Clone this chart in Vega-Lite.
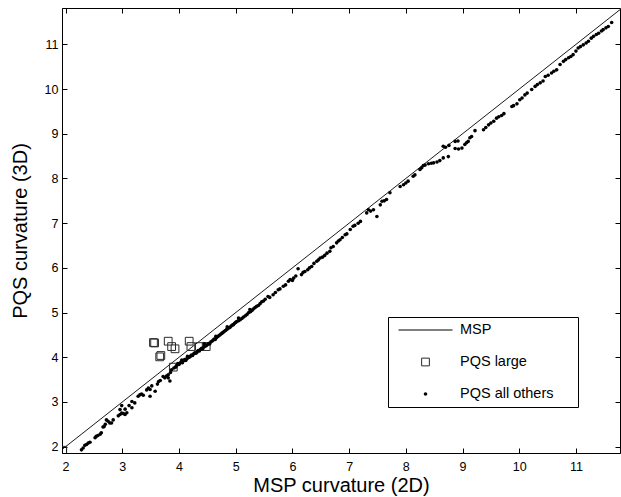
{
  "$schema": "https://vega.github.io/schema/vega-lite/v6.json",
  "width": 558,
  "height": 445,
  "autosize": "none",
  "padding": {"left": 62, "top": 8, "right": 1, "bottom": 44},
  "background": "white",
  "config": {
    "view": {"stroke": "black", "strokeWidth": 1},
    "axis": {
      "labelFont": "Liberation Sans", "labelFontSize": 12.5, "labelColor": "black",
      "titleFont": "Liberation Sans", "titleFontSize": 20, "titleFontWeight": "normal", "titleColor": "black",
      "domainColor": "black", "tickColor": "black", "grid": false, "tickSize": -5
    },
    "legend": {
      "orient": "none", "legendX": 326, "legendY": 309,
      "strokeColor": "black", "fillColor": "white", "padding": 5,
      "labelFont": "Liberation Sans", "labelFontSize": 14.5, "labelColor": "black",
      "labelOffset": 7, "rowPadding": 16, "clipHeight": 16, "symbolOffset": 5, "symbolStrokeWidth": 1,
      "titleOrient": "right", "titlePadding": 20, "titleFontSize": 10
    }
  },
  "resolve": {"axis": {"x": "independent", "y": "independent"}},
  "layer": [
    {
      "data": {"values": [{"x": 1.8, "y": 1.8}, {"x": 12, "y": 12}]},
      "mark": {"type": "line", "color": "black", "strokeWidth": 0.9, "clip": true},
      "encoding": {
        "x": {"field": "x", "type": "quantitative",
              "scale": {"domain": [1.937, 11.777], "nice": false, "zero": false},
              "axis": {"orient": "bottom", "values": [2,3,4,5,6,7,8,9,10,11], "title": "MSP curvature (2D)", "labelPadding": 12, "titlePadding": 3}},
        "y": {"field": "y", "type": "quantitative",
              "scale": {"domain": [1.859, 11.814], "nice": false, "zero": false},
              "axis": {"orient": "left", "values": [2,3,4,5,6,7,8,9,10,11], "title": "PQS curvature (3D)", "labelPadding": 9, "titlePadding": 14}}
      }
    },
    {
      "data": {"values": [
        {"series": "PQS large", "x": 1.95, "y": 1.92},
        {"series": "PQS large", "x": 3.55, "y": 4.33},
        {"series": "PQS large", "x": 3.57, "y": 4.32},
        {"series": "PQS large", "x": 3.81, "y": 4.36},
        {"series": "PQS large", "x": 3.87, "y": 4.24},
        {"series": "PQS large", "x": 3.93, "y": 4.19},
        {"series": "PQS large", "x": 3.66, "y": 4.01},
        {"series": "PQS large", "x": 3.68, "y": 4.04},
        {"series": "PQS large", "x": 4.18, "y": 4.36},
        {"series": "PQS large", "x": 4.21, "y": 4.24},
        {"series": "PQS large", "x": 4.36, "y": 4.24},
        {"series": "PQS large", "x": 4.48, "y": 4.24},
        {"series": "PQS large", "x": 3.90, "y": 3.78},
        {"series": "PQS all others", "x": 2.28, "y": 1.93},
        {"series": "PQS all others", "x": 2.31, "y": 1.97},
        {"series": "PQS all others", "x": 2.34, "y": 2.03},
        {"series": "PQS all others", "x": 2.37, "y": 2.05},
        {"series": "PQS all others", "x": 2.40, "y": 2.08},
        {"series": "PQS all others", "x": 2.43, "y": 2.10},
        {"series": "PQS all others", "x": 2.52, "y": 2.20},
        {"series": "PQS all others", "x": 2.54, "y": 2.23},
        {"series": "PQS all others", "x": 2.57, "y": 2.25},
        {"series": "PQS all others", "x": 2.61, "y": 2.28},
        {"series": "PQS all others", "x": 2.63, "y": 2.31},
        {"series": "PQS all others", "x": 2.66, "y": 2.44},
        {"series": "PQS all others", "x": 2.68, "y": 2.45},
        {"series": "PQS all others", "x": 2.70, "y": 2.50},
        {"series": "PQS all others", "x": 2.72, "y": 2.60},
        {"series": "PQS all others", "x": 2.75, "y": 2.57},
        {"series": "PQS all others", "x": 2.78, "y": 2.53},
        {"series": "PQS all others", "x": 2.81, "y": 2.53},
        {"series": "PQS all others", "x": 2.84, "y": 2.60},
        {"series": "PQS all others", "x": 2.93, "y": 2.69},
        {"series": "PQS all others", "x": 2.96, "y": 2.72},
        {"series": "PQS all others", "x": 2.99, "y": 2.75},
        {"series": "PQS all others", "x": 3.02, "y": 2.74},
        {"series": "PQS all others", "x": 3.05, "y": 2.72},
        {"series": "PQS all others", "x": 3.08, "y": 2.76},
        {"series": "PQS all others", "x": 2.96, "y": 2.83},
        {"series": "PQS all others", "x": 2.99, "y": 2.92},
        {"series": "PQS all others", "x": 3.05, "y": 2.84},
        {"series": "PQS all others", "x": 3.17, "y": 2.87},
        {"series": "PQS all others", "x": 3.12, "y": 2.92},
        {"series": "PQS all others", "x": 3.17, "y": 3.01},
        {"series": "PQS all others", "x": 3.22, "y": 2.98},
        {"series": "PQS all others", "x": 3.28, "y": 3.13},
        {"series": "PQS all others", "x": 3.31, "y": 3.16},
        {"series": "PQS all others", "x": 3.34, "y": 3.18},
        {"series": "PQS all others", "x": 3.37, "y": 3.15},
        {"series": "PQS all others", "x": 3.49, "y": 3.13},
        {"series": "PQS all others", "x": 3.49, "y": 3.28},
        {"series": "PQS all others", "x": 3.46, "y": 3.31},
        {"series": "PQS all others", "x": 3.43, "y": 3.27},
        {"series": "PQS all others", "x": 3.52, "y": 3.36},
        {"series": "PQS all others", "x": 3.58, "y": 3.24},
        {"series": "PQS all others", "x": 3.62, "y": 3.40},
        {"series": "PQS all others", "x": 3.64, "y": 3.46},
        {"series": "PQS all others", "x": 3.67, "y": 3.48},
        {"series": "PQS all others", "x": 3.72, "y": 3.57},
        {"series": "PQS all others", "x": 3.75, "y": 3.54},
        {"series": "PQS all others", "x": 3.78, "y": 3.58},
        {"series": "PQS all others", "x": 3.81, "y": 3.54},
        {"series": "PQS all others", "x": 3.84, "y": 3.47},
        {"series": "PQS all others", "x": 3.81, "y": 3.61},
        {"series": "PQS all others", "x": 3.85, "y": 3.66},
        {"series": "PQS all others", "x": 3.87, "y": 3.72},
        {"series": "PQS all others", "x": 3.91, "y": 3.76},
        {"series": "PQS all others", "x": 3.94, "y": 3.78},
        {"series": "PQS all others", "x": 3.96, "y": 3.82},
        {"series": "PQS all others", "x": 3.98, "y": 3.86},
        {"series": "PQS all others", "x": 4.00, "y": 3.84},
        {"series": "PQS all others", "x": 4.02, "y": 3.87},
        {"series": "PQS all others", "x": 4.04, "y": 3.90},
        {"series": "PQS all others", "x": 4.05, "y": 3.94},
        {"series": "PQS all others", "x": 4.06, "y": 3.88},
        {"series": "PQS all others", "x": 4.08, "y": 3.92},
        {"series": "PQS all others", "x": 4.10, "y": 3.95},
        {"series": "PQS all others", "x": 4.12, "y": 3.93},
        {"series": "PQS all others", "x": 4.14, "y": 3.97},
        {"series": "PQS all others", "x": 4.15, "y": 4.02},
        {"series": "PQS all others", "x": 4.16, "y": 3.99},
        {"series": "PQS all others", "x": 4.18, "y": 4.00},
        {"series": "PQS all others", "x": 4.20, "y": 4.02},
        {"series": "PQS all others", "x": 4.22, "y": 4.05},
        {"series": "PQS all others", "x": 4.24, "y": 4.04},
        {"series": "PQS all others", "x": 4.26, "y": 4.08},
        {"series": "PQS all others", "x": 4.28, "y": 4.10},
        {"series": "PQS all others", "x": 4.30, "y": 4.09},
        {"series": "PQS all others", "x": 4.32, "y": 4.12},
        {"series": "PQS all others", "x": 4.34, "y": 4.15},
        {"series": "PQS all others", "x": 4.36, "y": 4.14},
        {"series": "PQS all others", "x": 4.38, "y": 4.18},
        {"series": "PQS all others", "x": 4.40, "y": 4.20},
        {"series": "PQS all others", "x": 4.42, "y": 4.19},
        {"series": "PQS all others", "x": 4.44, "y": 4.23},
        {"series": "PQS all others", "x": 4.45, "y": 4.30},
        {"series": "PQS all others", "x": 4.46, "y": 4.25},
        {"series": "PQS all others", "x": 4.48, "y": 4.26},
        {"series": "PQS all others", "x": 4.50, "y": 4.28},
        {"series": "PQS all others", "x": 4.52, "y": 4.31},
        {"series": "PQS all others", "x": 4.54, "y": 4.30},
        {"series": "PQS all others", "x": 4.56, "y": 4.34},
        {"series": "PQS all others", "x": 4.58, "y": 4.36},
        {"series": "PQS all others", "x": 4.60, "y": 4.38},
        {"series": "PQS all others", "x": 4.62, "y": 4.41},
        {"series": "PQS all others", "x": 4.64, "y": 4.40},
        {"series": "PQS all others", "x": 4.65, "y": 4.47},
        {"series": "PQS all others", "x": 4.66, "y": 4.44},
        {"series": "PQS all others", "x": 4.68, "y": 4.46},
        {"series": "PQS all others", "x": 4.70, "y": 4.48},
        {"series": "PQS all others", "x": 4.72, "y": 4.50},
        {"series": "PQS all others", "x": 4.74, "y": 4.52},
        {"series": "PQS all others", "x": 4.76, "y": 4.54},
        {"series": "PQS all others", "x": 4.78, "y": 4.56},
        {"series": "PQS all others", "x": 4.80, "y": 4.58},
        {"series": "PQS all others", "x": 4.82, "y": 4.60},
        {"series": "PQS all others", "x": 4.84, "y": 4.62},
        {"series": "PQS all others", "x": 4.85, "y": 4.68},
        {"series": "PQS all others", "x": 4.86, "y": 4.64},
        {"series": "PQS all others", "x": 4.88, "y": 4.66},
        {"series": "PQS all others", "x": 4.90, "y": 4.67},
        {"series": "PQS all others", "x": 4.92, "y": 4.70},
        {"series": "PQS all others", "x": 4.94, "y": 4.72},
        {"series": "PQS all others", "x": 4.96, "y": 4.73},
        {"series": "PQS all others", "x": 4.98, "y": 4.76},
        {"series": "PQS all others", "x": 5.00, "y": 4.78},
        {"series": "PQS all others", "x": 5.02, "y": 4.80},
        {"series": "PQS all others", "x": 5.05, "y": 4.82},
        {"series": "PQS all others", "x": 5.05, "y": 4.88},
        {"series": "PQS all others", "x": 5.08, "y": 4.84},
        {"series": "PQS all others", "x": 5.11, "y": 4.87},
        {"series": "PQS all others", "x": 5.14, "y": 4.90},
        {"series": "PQS all others", "x": 5.17, "y": 4.93},
        {"series": "PQS all others", "x": 5.20, "y": 4.96},
        {"series": "PQS all others", "x": 5.23, "y": 5.00},
        {"series": "PQS all others", "x": 5.25, "y": 5.07},
        {"series": "PQS all others", "x": 5.26, "y": 5.02},
        {"series": "PQS all others", "x": 5.29, "y": 5.05},
        {"series": "PQS all others", "x": 5.31, "y": 5.08},
        {"series": "PQS all others", "x": 5.34, "y": 5.11},
        {"series": "PQS all others", "x": 5.37, "y": 5.14},
        {"series": "PQS all others", "x": 5.40, "y": 5.16},
        {"series": "PQS all others", "x": 5.43, "y": 5.20},
        {"series": "PQS all others", "x": 5.46, "y": 5.24},
        {"series": "PQS all others", "x": 5.49, "y": 5.26},
        {"series": "PQS all others", "x": 5.52, "y": 5.30},
        {"series": "PQS all others", "x": 5.57, "y": 5.36},
        {"series": "PQS all others", "x": 5.60, "y": 5.34},
        {"series": "PQS all others", "x": 5.66, "y": 5.40},
        {"series": "PQS all others", "x": 5.70, "y": 5.45},
        {"series": "PQS all others", "x": 5.75, "y": 5.51},
        {"series": "PQS all others", "x": 5.78, "y": 5.53},
        {"series": "PQS all others", "x": 5.84, "y": 5.59},
        {"series": "PQS all others", "x": 5.88, "y": 5.62},
        {"series": "PQS all others", "x": 5.93, "y": 5.70},
        {"series": "PQS all others", "x": 5.96, "y": 5.74},
        {"series": "PQS all others", "x": 6.00, "y": 5.72},
        {"series": "PQS all others", "x": 6.02, "y": 5.77},
        {"series": "PQS all others", "x": 6.06, "y": 5.82},
        {"series": "PQS all others", "x": 6.10, "y": 5.98},
        {"series": "PQS all others", "x": 6.16, "y": 5.85},
        {"series": "PQS all others", "x": 6.19, "y": 5.90},
        {"series": "PQS all others", "x": 6.22, "y": 5.92},
        {"series": "PQS all others", "x": 6.27, "y": 5.96},
        {"series": "PQS all others", "x": 6.30, "y": 6.00},
        {"series": "PQS all others", "x": 6.34, "y": 6.03},
        {"series": "PQS all others", "x": 6.38, "y": 6.10},
        {"series": "PQS all others", "x": 6.43, "y": 6.15},
        {"series": "PQS all others", "x": 6.46, "y": 6.18},
        {"series": "PQS all others", "x": 6.49, "y": 6.22},
        {"series": "PQS all others", "x": 6.53, "y": 6.24},
        {"series": "PQS all others", "x": 6.57, "y": 6.28},
        {"series": "PQS all others", "x": 6.61, "y": 6.33},
        {"series": "PQS all others", "x": 6.66, "y": 6.37},
        {"series": "PQS all others", "x": 6.68, "y": 6.45},
        {"series": "PQS all others", "x": 6.72, "y": 6.48},
        {"series": "PQS all others", "x": 6.78, "y": 6.56},
        {"series": "PQS all others", "x": 6.81, "y": 6.60},
        {"series": "PQS all others", "x": 6.84, "y": 6.63},
        {"series": "PQS all others", "x": 6.88, "y": 6.68},
        {"series": "PQS all others", "x": 6.93, "y": 6.74},
        {"series": "PQS all others", "x": 6.96, "y": 6.76},
        {"series": "PQS all others", "x": 7.02, "y": 6.86},
        {"series": "PQS all others", "x": 7.07, "y": 6.93},
        {"series": "PQS all others", "x": 7.10, "y": 6.95},
        {"series": "PQS all others", "x": 7.16, "y": 7.00},
        {"series": "PQS all others", "x": 7.20, "y": 7.04},
        {"series": "PQS all others", "x": 7.31, "y": 7.23},
        {"series": "PQS all others", "x": 7.34, "y": 7.30},
        {"series": "PQS all others", "x": 7.38, "y": 7.27},
        {"series": "PQS all others", "x": 7.43, "y": 7.30},
        {"series": "PQS all others", "x": 7.49, "y": 7.15},
        {"series": "PQS all others", "x": 7.55, "y": 7.41},
        {"series": "PQS all others", "x": 7.58, "y": 7.49},
        {"series": "PQS all others", "x": 7.62, "y": 7.50},
        {"series": "PQS all others", "x": 7.66, "y": 7.53},
        {"series": "PQS all others", "x": 7.72, "y": 7.68},
        {"series": "PQS all others", "x": 7.90, "y": 7.82},
        {"series": "PQS all others", "x": 7.96, "y": 7.86},
        {"series": "PQS all others", "x": 8.00, "y": 7.90},
        {"series": "PQS all others", "x": 8.04, "y": 7.94},
        {"series": "PQS all others", "x": 8.13, "y": 8.05},
        {"series": "PQS all others", "x": 8.16, "y": 8.08},
        {"series": "PQS all others", "x": 8.25, "y": 8.20},
        {"series": "PQS all others", "x": 8.28, "y": 8.24},
        {"series": "PQS all others", "x": 8.31, "y": 8.29},
        {"series": "PQS all others", "x": 8.34, "y": 8.30},
        {"series": "PQS all others", "x": 8.40, "y": 8.33},
        {"series": "PQS all others", "x": 8.45, "y": 8.34},
        {"series": "PQS all others", "x": 8.49, "y": 8.35},
        {"series": "PQS all others", "x": 8.55, "y": 8.37},
        {"series": "PQS all others", "x": 8.60, "y": 8.40},
        {"series": "PQS all others", "x": 8.66, "y": 8.46},
        {"series": "PQS all others", "x": 8.75, "y": 8.49},
        {"series": "PQS all others", "x": 8.66, "y": 8.72},
        {"series": "PQS all others", "x": 8.70, "y": 8.70},
        {"series": "PQS all others", "x": 8.76, "y": 8.74},
        {"series": "PQS all others", "x": 8.87, "y": 8.83},
        {"series": "PQS all others", "x": 8.92, "y": 8.84},
        {"series": "PQS all others", "x": 8.87, "y": 8.67},
        {"series": "PQS all others", "x": 8.93, "y": 8.66},
        {"series": "PQS all others", "x": 8.99, "y": 8.68},
        {"series": "PQS all others", "x": 9.04, "y": 8.76},
        {"series": "PQS all others", "x": 9.07, "y": 8.80},
        {"series": "PQS all others", "x": 9.10, "y": 8.83},
        {"series": "PQS all others", "x": 9.13, "y": 8.91},
        {"series": "PQS all others", "x": 9.16, "y": 8.94},
        {"series": "PQS all others", "x": 9.22, "y": 9.07},
        {"series": "PQS all others", "x": 9.37, "y": 9.09},
        {"series": "PQS all others", "x": 9.41, "y": 9.14},
        {"series": "PQS all others", "x": 9.46, "y": 9.20},
        {"series": "PQS all others", "x": 9.50, "y": 9.24},
        {"series": "PQS all others", "x": 9.55, "y": 9.28},
        {"series": "PQS all others", "x": 9.60, "y": 9.35},
        {"series": "PQS all others", "x": 9.64, "y": 9.38},
        {"series": "PQS all others", "x": 9.69, "y": 9.41},
        {"series": "PQS all others", "x": 9.73, "y": 9.45},
        {"series": "PQS all others", "x": 9.87, "y": 9.61},
        {"series": "PQS all others", "x": 9.90, "y": 9.63},
        {"series": "PQS all others", "x": 9.96, "y": 9.67},
        {"series": "PQS all others", "x": 10.01, "y": 9.76},
        {"series": "PQS all others", "x": 10.05, "y": 9.80},
        {"series": "PQS all others", "x": 10.10, "y": 9.87},
        {"series": "PQS all others", "x": 10.14, "y": 9.91},
        {"series": "PQS all others", "x": 10.22, "y": 9.99},
        {"series": "PQS all others", "x": 10.28, "y": 10.06},
        {"series": "PQS all others", "x": 10.32, "y": 10.10},
        {"series": "PQS all others", "x": 10.37, "y": 10.14},
        {"series": "PQS all others", "x": 10.42, "y": 10.18},
        {"series": "PQS all others", "x": 10.46, "y": 10.28},
        {"series": "PQS all others", "x": 10.51, "y": 10.31},
        {"series": "PQS all others", "x": 10.57, "y": 10.36},
        {"series": "PQS all others", "x": 10.61, "y": 10.40},
        {"series": "PQS all others", "x": 10.66, "y": 10.43},
        {"series": "PQS all others", "x": 10.72, "y": 10.55},
        {"series": "PQS all others", "x": 10.78, "y": 10.62},
        {"series": "PQS all others", "x": 10.82, "y": 10.66},
        {"series": "PQS all others", "x": 10.87, "y": 10.70},
        {"series": "PQS all others", "x": 10.91, "y": 10.73},
        {"series": "PQS all others", "x": 10.95, "y": 10.77},
        {"series": "PQS all others", "x": 11.00, "y": 10.85},
        {"series": "PQS all others", "x": 11.04, "y": 10.92},
        {"series": "PQS all others", "x": 11.08, "y": 10.95},
        {"series": "PQS all others", "x": 11.13, "y": 10.99},
        {"series": "PQS all others", "x": 11.18, "y": 11.03},
        {"series": "PQS all others", "x": 11.22, "y": 11.07},
        {"series": "PQS all others", "x": 11.27, "y": 11.14},
        {"series": "PQS all others", "x": 11.31, "y": 11.18},
        {"series": "PQS all others", "x": 11.36, "y": 11.22},
        {"series": "PQS all others", "x": 11.40, "y": 11.25},
        {"series": "PQS all others", "x": 11.45, "y": 11.30},
        {"series": "PQS all others", "x": 11.48, "y": 11.33},
        {"series": "PQS all others", "x": 11.53, "y": 11.37},
        {"series": "PQS all others", "x": 11.57, "y": 11.40},
        {"series": "PQS all others", "x": 11.63, "y": 11.49}
      ]},
      "mark": {"type": "point", "filled": true, "strokeWidth": 1, "opacity": 1, "clip": true},
      "encoding": {
        "x": {"field": "x", "type": "quantitative",
              "scale": {"domain": [1.937, 11.777], "nice": false, "zero": false},
              "axis": {"orient": "top", "values": [2,3,4,5,6,7,8,9,10,11], "labels": false, "domain": false, "title": null}},
        "y": {"field": "y", "type": "quantitative",
              "scale": {"domain": [1.859, 11.814], "nice": false, "zero": false},
              "axis": {"orient": "right", "values": [2,3,4,5,6,7,8,9,10,11], "labels": false, "domain": false, "title": null}},
        "shape": {"field": "series", "type": "nominal", "title": " ",
                  "scale": {"domain": ["MSP", "PQS large", "PQS all others"], "range": ["stroke", "square", "circle"]}},
        "size": {"field": "series", "type": "nominal", "title": " ",
                 "scale": {"type": "ordinal", "domain": ["MSP", "PQS large", "PQS all others"], "range": [2916, 60, 13]}},
        "fill": {"field": "series", "type": "nominal", "title": " ",
                 "scale": {"domain": ["MSP", "PQS large", "PQS all others"], "range": ["black", "transparent", "black"]}},
        "stroke": {"field": "series", "type": "nominal", "title": " ",
                   "scale": {"domain": ["MSP", "PQS large", "PQS all others"], "range": ["black", "#2a2a2a", "transparent"]}}
      }
    }
  ]
}
